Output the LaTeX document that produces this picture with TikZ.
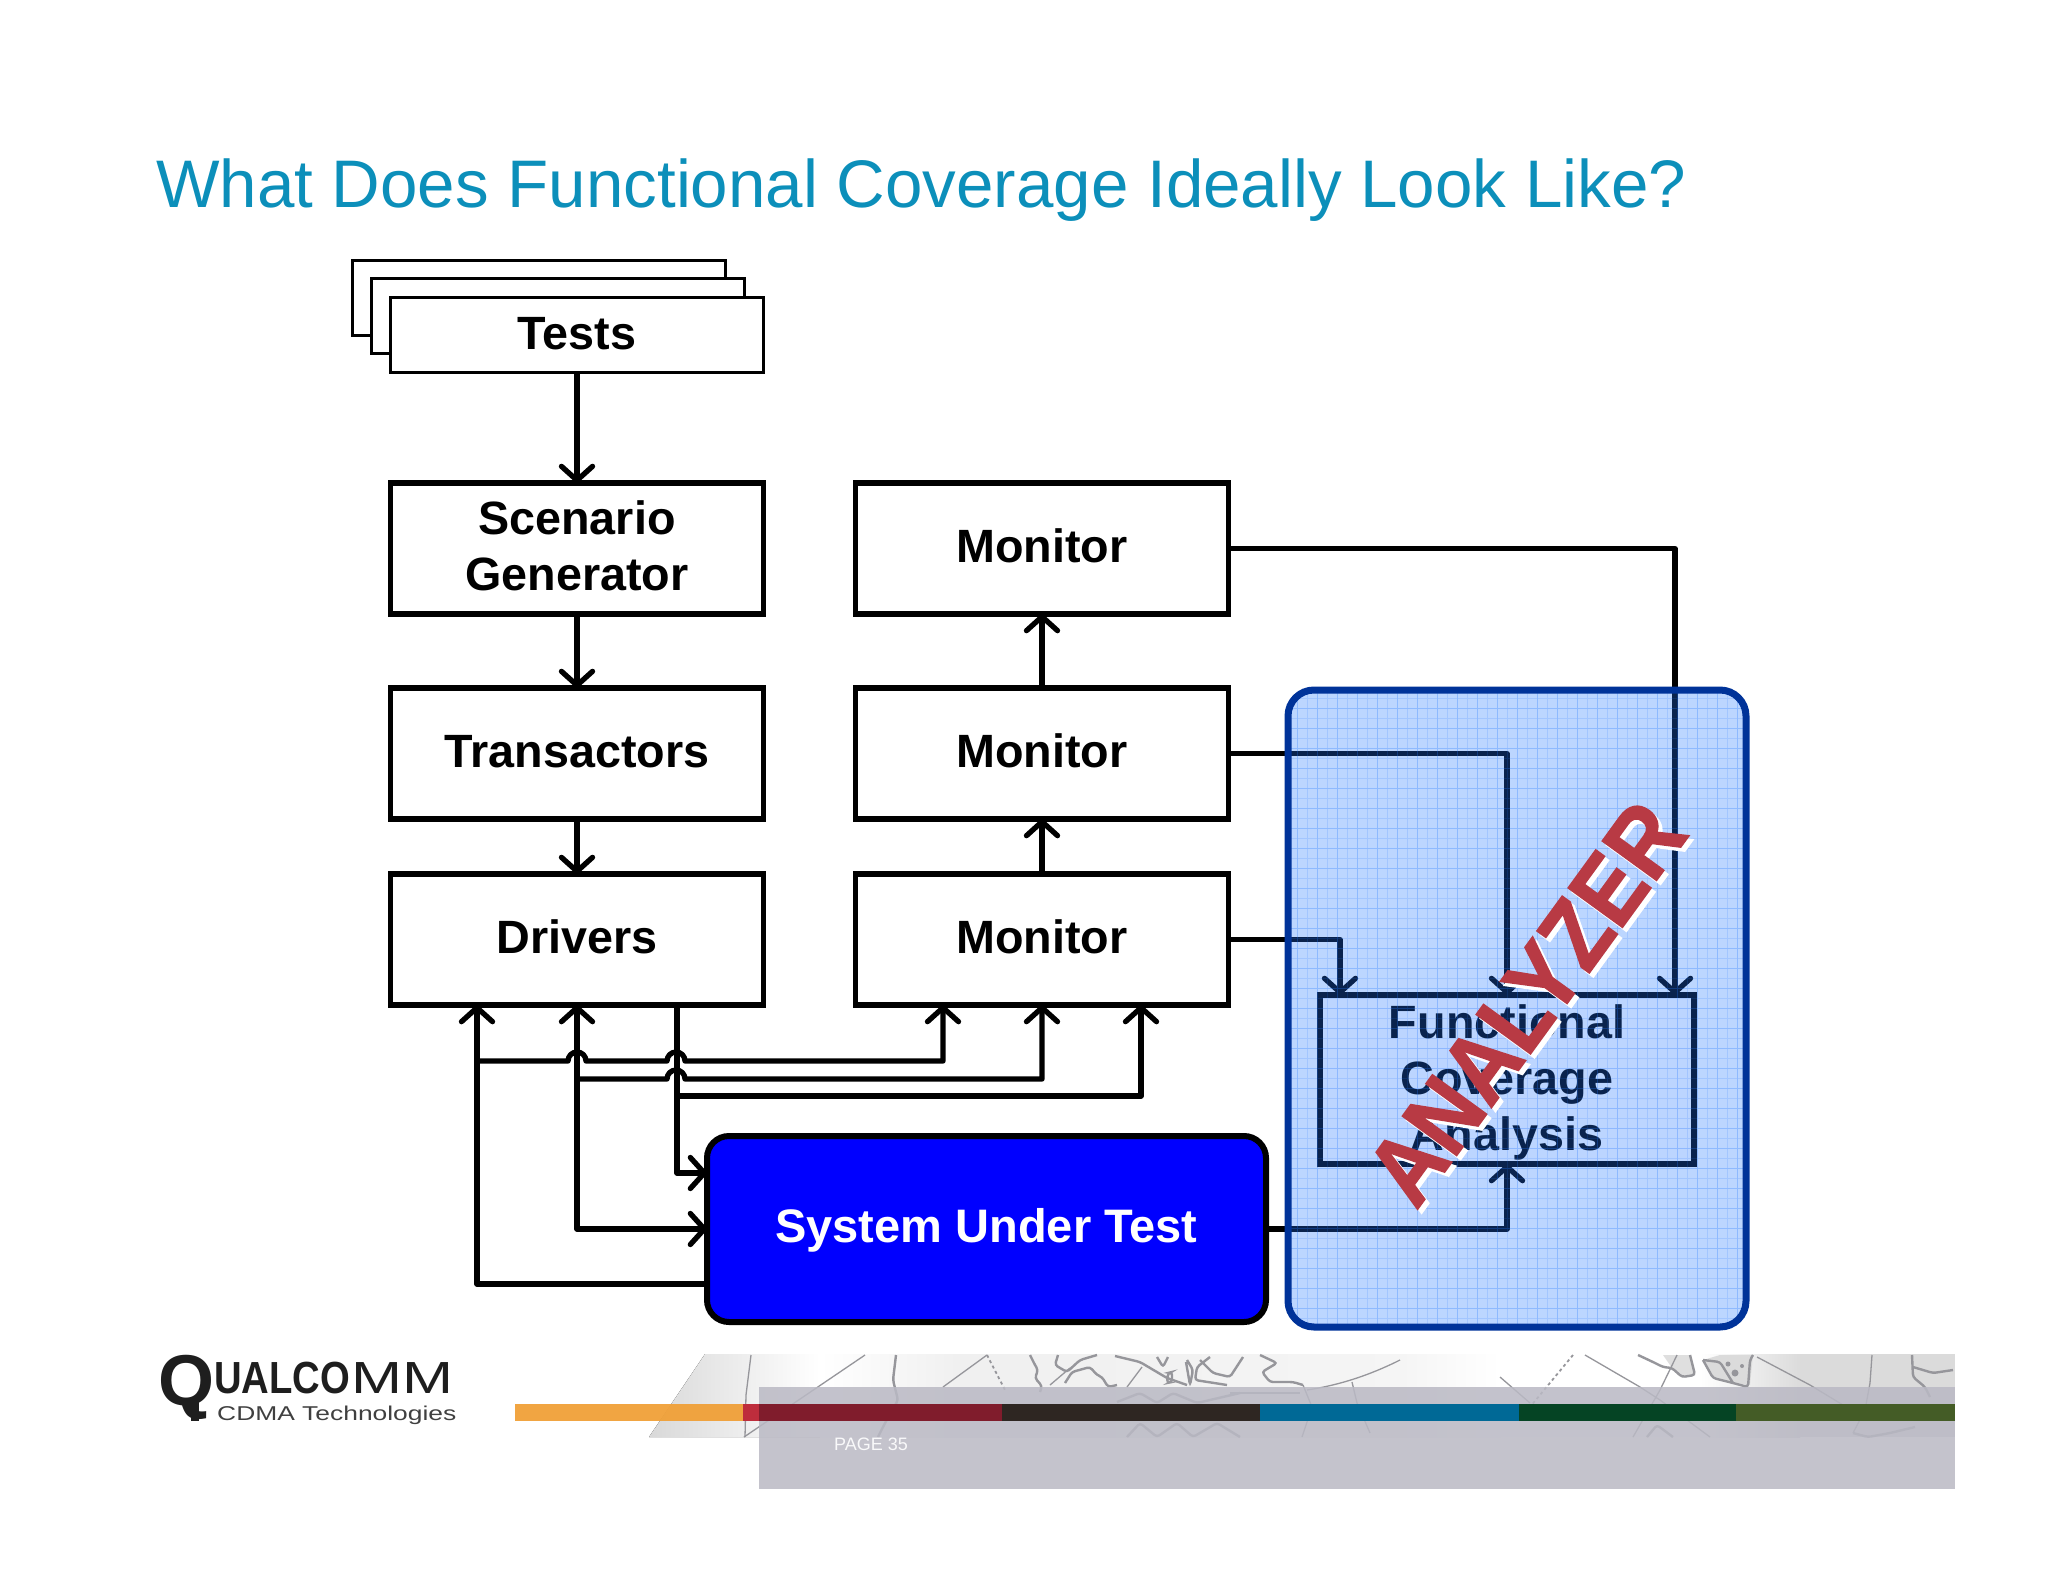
\documentclass[tikz,border=0pt]{standalone}
\usepackage{xcolor}
\usepackage{fontspec}
\setmainfont{Liberation Sans}
\newfontfamily\stampfont[FakeBold=1.6]{Liberation Sans Bold}
\usepackage{tikz}
\usetikzlibrary{arrows.meta, positioning, calc, shadings}
\definecolor{titleColor}{RGB}{12, 143, 186}
\definecolor{lineColor}{RGB}{0, 0, 0}
\definecolor{sutColor}{RGB}{0, 0, 255}
\definecolor{analyzerFill}{RGB}{34, 119, 255}
\definecolor{analyzerEdge}{RGB}{0, 51, 153}
\definecolor{stampColor}{RGB}{184, 58, 68}
\definecolor{panelColor}{RGB}{186, 185, 196}
\definecolor{mapColor}{RGB}{150, 150, 155}
\definecolor{logoColor}{RGB}{30, 30, 30}

\begin{document}
\begin{tikzpicture}[
        x=1pt, y=-1pt,
        node distance=74pt and 92pt,
        block/.style={rectangle, draw=lineColor, fill=white, line width=5.4pt, outer sep=0pt, inner sep=0pt, minimum width=373pt, minimum height=131pt, text depth=5pt, align=center, font=\fontsize{46.7}{56}\selectfont\bfseries},
        stack/.style={rectangle, draw=lineColor, fill=white, line width=3pt, outer sep=0pt, inner sep=0pt, minimum width=373pt, minimum height=75pt, text depth=2pt, font=\fontsize{46.7}{56}\selectfont\bfseries},
        sutbox/.style={rectangle, rounded corners=22pt, draw=lineColor, fill=sutColor, text=white, line width=6pt, outer sep=0pt, minimum width=559pt, minimum height=186pt, text height=36pt, font=\fontsize{47}{56}\selectfont\bfseries},
        line/.style={draw=lineColor, line width=5.3pt, line join=round, ->, >={Straight Barb[length=14pt, width=31pt, round]}},
        stamp/.style={rotate=54, inner sep=0pt, font=\fontsize{87}{87}\stampfont},
        coast/.style={draw=mapColor, line width=2.4pt, rounded corners=3pt},
        meridian/.style={draw=mapColor, line width=1.3pt},
        bar/.style={inner sep=0pt, outer sep=0pt, minimum height=17pt, anchor=west}
    ]
    \useasboundingbox (0,0) rectangle (2048,1582);
    \node (title) [anchor=base west, inner sep=0pt, text=titleColor, font=\fontsize{67.3}{67.3}\selectfont] at (156,207) {What Does Functional Coverage Ideally Look Like?};

    % Nodes
    \node (testsback) [stack] at (539,297.5) {};
    \node (testsmid) [stack] at ([xshift=19pt, yshift=-18.5pt]testsback) {};
    \node (tests) [stack] at ([xshift=19pt, yshift=-18.5pt]testsmid) {Tests};
    \node (scenario) [block, below=111pt of tests] {Scenario\\Generator};
    \node (transactors) [block, below=of scenario] {Transactors};
    \node (drivers) [block, below=55pt of transactors] {Drivers};
    \node (monitorC) [block, right=of drivers] {Monitor};
    \node (monitorB) [block, above=55pt of monitorC] {Monitor};
    \node (monitorA) [block, above=of monitorB] {Monitor};
    \node (sut) [sutbox] at (986.5,1229) {System Under Test};
    \node (fca) [block, text depth=4pt, minimum width=374pt, minimum height=169pt] at (1507,1079.5) {Functional\\Coverage\\Analysis};

    \coordinate (driverL) at ([xshift=-100pt]drivers.south);
    \coordinate (driverC) at (drivers.south);
    \coordinate (driverR) at ([xshift=100pt]drivers.south);
    \coordinate (monL) at ([xshift=-99pt]monitorC.south);
    \coordinate (monC) at (monitorC.south);
    \coordinate (monR) at ([xshift=99pt]monitorC.south);
    \coordinate (busA) at (driverL |- 0,1061);
    \coordinate (busB) at (driverC |- 0,1079);
    \coordinate (busC) at (driverR |- 0,1096);
    \coordinate (fcaL) at ([xshift=-167pt]fca.north);
    \coordinate (fcaR) at ([xshift=168pt]fca.north);

    % Connectors
    \path [line] (tests) -- (scenario);
    \path [line] (scenario) -- (transactors);
    \path [line] (transactors) -- (drivers);
    \path [line] (monitorC) -- (monitorB);
    \path [line] (monitorB) -- (monitorA);
    \path [line] ([yshift=-55pt]sut.west) -| (driverL);
    \path [line, <->] (driverC) |- (sut.west);
    \path [line] (driverR) |- ([yshift=56pt]sut.west);
    \path [line] (busA) -- ++(91,0) arc[start angle=180, end angle=0, radius=9pt] -- ++(81,0) arc[start angle=180, end angle=0, radius=9pt] -- (monL |- busA) -- (monL);
    \path [line] (busB) -- ++(90,0) arc[start angle=180, end angle=0, radius=9pt] -- (monC |- busB) -- (monC);
    \path [line] (busC) -- (monR |- busC) -- (monR);
    \path [line] (monitorA.east) -| (fcaR);
    \path [line] (monitorB.east) -| (fca.north);
    \path [line] (monitorC.east) -| (fcaL);
    \path [line] (sut.east) -| (fca.south);

    % Analyzer overlay
    \node (analyzer) [rectangle, rounded corners=26pt, draw=analyzerEdge, fill=analyzerFill, fill opacity=0.3, draw opacity=1, line width=7pt, outer sep=0pt, minimum width=458pt, minimum height=637pt,
        path picture={
            \draw [analyzerFill, opacity=0.16, line width=1pt, step=10pt] (path picture bounding box.south west) grid (path picture bounding box.north east);
            \draw [analyzerFill, opacity=0.16, line width=1pt, step=20pt] (path picture bounding box.south west) grid (path picture bounding box.north east);
        }] at (1517,1008.5) {};
    \node (stampshadow) [stamp, text=white] at (1530,1007) {\scalebox{1}[1.12]{ANALYZER}};
    \node (stamptext) [stamp, text=stampColor] at (1526,1003) {\scalebox{1}[1.12]{ANALYZER}};

    % Logo
    \node (logoQ) [anchor=base, inner sep=0pt, text=logoColor, font=\fontsize{72}{72}\selectfont\bfseries] at (186,1405) {Q};
    \fill [logoColor] (191,1398) rectangle (199,1421);
    \node (logoUalco) [anchor=base west, inner sep=0pt, text=logoColor, font=\fontsize{45}{45}\selectfont\bfseries] at (214,1393) {\scalebox{0.85}[1]{UALCO}};
    \node (logoMm) [anchor=base west, inner sep=0pt, text=logoColor, font=\fontsize{45}{45}\selectfont] at (351,1393) {\scalebox{1.36}[1]{MM}};
    \node (logoSub) [anchor=base west, inner sep=0pt, text=logoColor!85, font=\fontsize{20}{20}\selectfont] at (217,1420) {\scalebox{1.32}[1]{CDMA Technologies}};

    % Footer band
    \fill [left color=gray!30, right color=white] (705,1354) -- (820,1354) -- (820,1437) -- (649,1437) -- cycle;
    \fill [left color=white, right color=gray!12] (820,1354) rectangle (960,1437);
    \fill [left color=gray!12, right color=gray!8] (960,1354) rectangle (1400,1437);
    \fill [left color=gray!8, right color=white] (1400,1354) rectangle (1500,1437);
    \fill [white] (1500,1354) rectangle (1700,1437);
    \fill [left color=white, right color=gray!28] (1700,1354) rectangle (1800,1437);
    \fill [gray!28] (1800,1354) rectangle (1955,1437);
    \fill [gray!28] (1703,1360) -- (1720,1355) -- (1753,1355) -- (1750,1385) -- (1733,1383) -- (1713,1378) -- cycle;
    \fill [gray!25] (1663,1355) -- (1690,1355) -- (1695,1375) -- (1682,1377) -- (1672,1368) -- cycle;
    \fill [mapColor] (1735,1373) circle[radius=3.5pt] (1728,1364) circle[radius=2.5pt] (1742,1366) circle[radius=2pt];
    \foreach \pts in {
        {(896,1355) -- (893,1380) -- (898,1400) -- (884,1425) -- (878,1437)},
        {(1030,1355) -- (1035,1365) -- (1038,1370) -- (1035,1378) -- (1042,1386) -- (1040,1392)},
        {(1058,1355) -- (1055,1365) -- (1067,1372) -- (1080,1360) -- (1097,1355)},
        {(1065,1383) -- (1072,1372) -- (1090,1367) -- (1097,1375) -- (1102,1377) -- (1108,1387) -- (1117,1385)},
        {(1115,1356) -- (1140,1362) -- (1167,1378) -- (1187,1385)},
        {(1157,1357) -- (1163,1367) -- (1168,1357)},
        {(1168,1373) -- (1167,1383) -- (1172,1382) -- (1172,1372) -- cycle},
        {(1187,1360) -- (1193,1370) -- (1190,1385) -- (1186,1362)},
        {(1200,1360) -- (1213,1373) -- (1230,1377) -- (1243,1357)},
        {(1210,1357) -- (1197,1367) -- (1195,1380) -- (1227,1385)},
        {(1260,1355) -- (1277,1363) -- (1262,1372) -- (1270,1382) -- (1293,1382) -- (1303,1385)},
        {(1117,1402) -- (1140,1393) -- (1157,1403) -- (1173,1393) -- (1197,1403) -- (1240,1393)},
        {(1127,1437) -- (1140,1423) -- (1157,1437) -- (1177,1423) -- (1193,1437) -- (1217,1423) -- (1240,1437)},
        {(1638,1355) -- (1653,1362) -- (1663,1367) -- (1672,1368) -- (1682,1377) -- (1695,1375) -- (1690,1355)},
        {(1703,1360) -- (1713,1378) -- (1733,1383) -- (1748,1387) -- (1750,1360) -- (1753,1355)},
        {(1703,1360) -- (1720,1362) -- (1733,1383)},
        {(1912,1355) -- (1913,1377) -- (1925,1387) -- (1930,1397)},
        {(1913,1367) -- (1933,1373) -- (1953,1370)},
        {(1647,1437) -- (1657,1425) -- (1673,1437)},
        {(1853,1433) -- (1868,1437) -- (1890,1433) -- (1915,1427)}
    } {
        \path [coast] \pts;
    }
    \foreach \pts in {
        {(751,1355) -- (746,1395) -- (745,1437)},
        {(865,1355) -- (744,1437)},
        {(987,1355) -- (943,1387)},
        {(1070,1368) -- (1050,1385)},
        {(1142,1367) -- (1127,1387)},
        {(1230,1393) -- (1300,1393)},
        {(1303,1385) -- (1312,1407) -- (1302,1437)},
        {(1352,1382) -- (1357,1403) -- (1370,1433)},
        {(1500,1377) -- (1530,1403)},
        {(1585,1355) -- (1640,1387) -- (1660,1400) -- (1710,1437)},
        {(1677,1355) -- (1660,1390) -- (1633,1437)},
        {(1757,1357) -- (1810,1385) -- (1843,1405)},
        {(1872,1355) -- (1870,1383) -- (1865,1410) -- (1853,1433)}
    } {
        \path [meridian] \pts;
    }
    \path [meridian] (1400,1360) .. controls (1370,1375) and (1340,1385) .. (1307,1390);
    \path [meridian, dashed, line width=1.8pt] (987,1355) -- (1005,1390);
    \path [meridian, dashed, line width=1.8pt] (1573,1355) -- (1530,1407);
    \fill [panelColor, opacity=0.86] (759,1387) rectangle (1955,1489);

    \node (barOrange) [bar, fill={rgb,255:red,240;green,160;blue,56}, opacity=0.95, minimum width=228pt] at (515,1412.5) {};
    \node (barRed) [bar, fill={rgb,255:red,128;green,28;blue,44}, minimum width=259pt, right=0pt of barOrange] {};
    \node (barTip) [bar, fill={rgb,255:red,190;green,45;blue,60}, minimum width=16pt, right=0pt of barOrange] {};
    \node (barDark) [bar, fill={rgb,255:red,46;green,38;blue,34}, minimum width=258pt, right=0pt of barRed] {};
    \node (barBlue) [bar, fill={rgb,255:red,0;green,105;blue,150}, minimum width=259pt, right=0pt of barDark] {};
    \node (barGreen) [bar, fill={rgb,255:red,5;green,68;blue,36}, minimum width=217pt, right=0pt of barBlue] {};
    \node (barOlive) [bar, fill={rgb,255:red,68;green,92;blue,38}, minimum width=219pt, right=0pt of barGreen] {};
    \node (page) [anchor=base west, inner sep=0pt, text=white!92!panelColor, font=\fontsize{18}{18}\selectfont] at (834,1450) {PAGE 35};
\end{tikzpicture}
\end{document}
